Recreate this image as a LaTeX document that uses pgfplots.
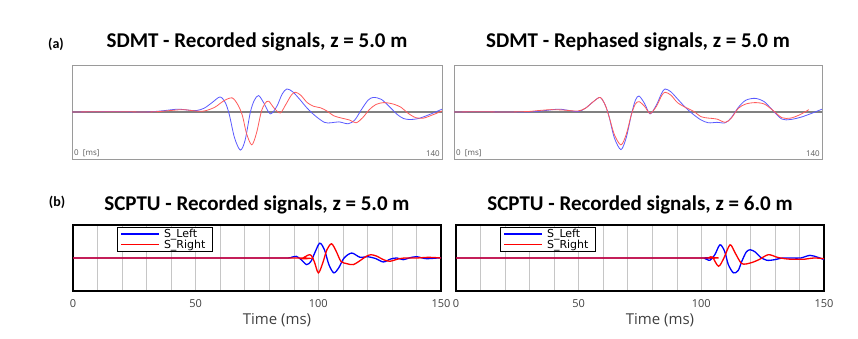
\documentclass[border=0pt]{standalone}
\usepackage{pgfplots}
\pgfplotsset{compat=1.18}
\usepackage{fontspec}
\setmainfont{Carlito}
\newfontfamily\uifont{Open Sans}
\newfontfamily\legfont{DejaVu Sans}

\definecolor{sigBlue}{HTML}{5A5AFF}
\definecolor{sigRed}{HTML}{FF5A5A}
\definecolor{frameGray}{HTML}{9A9A9A}

\pgfplotsset{
  sdmt/.style={
    scale only axis, width=370pt, height=94pt,
    xmin=0, xmax=140, ymin=-1, ymax=1,
    ticks=none,
    axis line style={frameGray, line width=0.9pt},
    title style={font=\bfseries\fontsize{21}{21}\selectfont, at={(0.5,1)}, anchor=base, yshift=11pt},
  },
  scptu/.style={
    scale only axis, width=368pt, height=66pt,
    xmin=0, xmax=150, ymin=-1, ymax=1,
    xtick={0,50,100,150}, ytick=\empty,
    minor xtick={10,20,30,40,60,70,80,90,110,120,130,140},
    xmajorgrids, xminorgrids,
    major grid style={gray!45, line width=0.6pt},
    minor grid style={gray!45, line width=0.6pt},
    major tick length=0pt, minor tick length=0pt,
    axis line style={black, line width=1.4pt},
    tick label style={font=\uifont\fontsize{11}{11}\selectfont, text=black!75, yshift=-5pt},
    /pgf/number format/assume math mode=true,
    xlabel={Time (ms)},
    xlabel style={font=\uifont\fontsize{15}{15}\selectfont, text=black!75, xshift=20pt, yshift=1pt},
    title style={font=\bfseries\fontsize{21}{21}\selectfont, at={(0.5,1)}, anchor=base, yshift=8pt},
    legend style={at={(axis description cs:0.12,0.97)}, anchor=north west, draw=black, line width=0.9pt,
      font=\legfont\fontsize{11}{11}\selectfont, inner xsep=3pt, inner ysep=0.5pt,
      nodes={inner ysep=1.5pt, inner xsep=4pt, text depth=0.1em}, row sep=-2pt, cells={anchor=west}},
    legend image code/.code={\draw[##1, line width=1.4pt] (0pt,0pt) -- (38pt,0pt);},
  },
}

\begin{document}
\begin{tikzpicture}
\useasboundingbox (0pt,0pt) rectangle (858pt,339pt);

\node[font=\bfseries\fontsize{14}{14}\selectfont, anchor=base] at (56pt,290pt) {(a)};
\node[font=\bfseries\fontsize{14}{14}\selectfont, anchor=base] at (57pt,132pt) {(b)};

% SDMT recorded
\begin{axis}[sdmt, at={(72pt,180pt)}, anchor=south west,
  title={SDMT - Recorded signals, z = 5.0 m}]
\addplot[gray, line width=1.4pt] coordinates {(0,0) (140,0)};
\addplot[sigBlue, line width=0.8pt, smooth] coordinates {
(0,0) (8,0.005) (16,0.01) (24,0) (30,0.005) (35,0.03) (40,0.06) (44,0.04) (47,0.03)
(50,0.08) (53,0.2) (56,0.32) (58,0.2) (59.5,-0.05) (61.5,-0.55) (63.7,-0.81) (65.5,-0.6)
(67.5,0) (69,0.25) (70.6,0.35) (72.5,0.2) (75,-0.04) (77.5,0.12) (79.5,0.38) (81.3,0.49)
(83.5,0.43) (86,0.28) (89,0.08) (92,-0.08) (95.5,-0.22) (98,-0.23) (101,-0.21) (104.5,-0.25)
(107,-0.17) (109.5,0.05) (112,0.25) (114,0.31) (117,0.27) (120,0.12) (123,-0.05) (125.5,-0.14)
(128,-0.16) (131,-0.14) (135,-0.06) (140,0.06)};
\addplot[sigRed, line width=0.8pt, smooth] coordinates {
(0,0) (10,0.005) (20,0.005) (28,0) (33,0.01) (37,0.03) (42,0.05) (47,0.02) (50,0.02)
(54,0.1) (57.5,0.24) (60.6,0.3) (62.8,0.15) (64.5,-0.08) (66,-0.45) (68,-0.70) (69.8,-0.45)
(71.6,0) (73,0.18) (74.4,0.23) (76.5,0.08) (78.8,-0.02) (80.8,0.15) (83,0.36) (84.5,0.42)
(86.5,0.36) (89,0.2) (91.5,0.12) (94,0.09) (96.5,0.02) (99,-0.08) (102,-0.13) (105,-0.17)
(107.5,-0.23) (110,-0.12) (112.5,0.05) (115,0.16) (118,0.2) (121.5,0.17) (124.5,0.1)
(127,-0.02) (130,-0.12) (133,-0.13) (136.5,-0.06) (140,0.02)};
\node[anchor=south west, font=\uifont\fontsize{8}{8}\selectfont, text=black!65, inner sep=2pt] at (rel axis cs:0,0) {0\ \ [ms]};
\node[anchor=south east, font=\uifont\fontsize{8}{8}\selectfont, text=black!65, inner sep=2pt] at (rel axis cs:1,0) {140};
\end{axis}

% SDMT rephased
\begin{axis}[sdmt, at={(454pt,180pt)}, anchor=south west, width=368pt,
  title={SDMT - Rephased signals, z = 5.0 m}]
\addplot[gray, line width=1.4pt] coordinates {(0,0) (140,0)};
\addplot[sigBlue, line width=0.8pt, smooth] coordinates {
(0,0) (10,0.005) (20,0) (28,0) (33,0.02) (39.7,0.06) (44,0.03) (47.3,0.01) (50,0.08)
(53,0.22) (55.6,0.31) (57.5,0.15) (59,-0.1) (61,-0.55) (63.5,-0.80) (65.5,-0.55) (67.5,-0.05)
(69,0.25) (70.4,0.34) (72.5,0.18) (74.6,-0.04) (77,0.15) (79,0.4) (80.3,0.49) (82.5,0.43)
(85,0.28) (88,0.1) (91,-0.05) (94,-0.17) (96.8,-0.23) (100,-0.22) (103.2,-0.23) (105.5,-0.12)
(108.2,0.1) (111,0.25) (114.6,0.29) (118,0.22) (121,0.05) (124.7,-0.15) (128,-0.16)
(132,-0.11) (136,-0.03) (140,0.06)};
\addplot[sigRed, line width=0.8pt, smooth] coordinates {
(0,0) (10,0.005) (20,0) (28,0.01) (32,0.03) (37,0.05) (42,0.04) (47,0.02) (50,0.08)
(53,0.22) (55.6,0.31) (57.5,0.15) (59,-0.1) (61,-0.48) (63.5,-0.70) (65.5,-0.48) (67.5,-0.05)
(69,0.17) (70.4,0.22) (72.5,0.12) (74.6,-0.03) (77,0.12) (79,0.35) (80.3,0.42) (82.5,0.36)
(85,0.2) (88,0.1) (91,0.02) (94,-0.1) (96.8,-0.13) (100,-0.15) (103.2,-0.22) (105.5,-0.13)
(108.2,0.08) (111,0.17) (114.6,0.2) (118,0.17) (121,0.05) (124.7,-0.12) (128,-0.13)
(131.5,-0.06) (135,0.05)};
\node[anchor=south west, font=\uifont\fontsize{8}{8}\selectfont, text=black!65, inner sep=2pt] at (rel axis cs:0,0) {0\ \ [ms]};
\node[anchor=south east, font=\uifont\fontsize{8}{8}\selectfont, text=black!65, inner sep=2pt] at (rel axis cs:1,0) {140};
\end{axis}

% SCPTU z = 5.0 m
\begin{axis}[scptu, at={(73pt,48pt)}, anchor=south west,
  title={SCPTU - Recorded signals, z = 5.0 m}]
\addplot[blue, line width=1.3pt, smooth] coordinates {
(0,0) (60,0) (86,0) (89,0.02) (91,0.05) (93,-0.05) (95.2,-0.2) (97,-0.1) (98.8,0.2)
(100.6,0.45) (102.5,0.25) (104.3,-0.2) (106.3,-0.45) (108.3,-0.3) (110.5,0.0) (113.6,0.15)
(117,0.02) (120,0.04) (123.5,-0.02) (126.5,-0.12) (129.5,-0.03) (132,0.0) (134.6,-0.05)
(137,0.0) (140,0.04) (144,-0.02) (150,0.01)};
\addplot[red, line width=1.3pt, smooth] coordinates {
(0,0) (90,0) (93,-0.02) (96.6,0.1) (98.3,-0.1) (100,-0.45) (101.8,-0.15) (103.5,0.25)
(105.4,0.43) (107.3,0.2) (109.2,-0.1) (111.5,-0.17) (114.2,-0.2) (117,-0.08) (119.5,0.05)
(121.5,0.1) (124,0.05) (126.5,-0.05) (129.2,-0.1) (132,-0.04) (135,0.0) (140,0.0) (145,0.02)
(150,0.0)};
\legend{S\_Left, S\_Right}
\end{axis}

% SCPTU z = 6.0 m
\begin{axis}[scptu, at={(456pt,48pt)}, anchor=south west,
  title={SCPTU - Recorded signals, z = 6.0 m}]
\addplot[blue, line width=1.3pt, smooth] coordinates {
(0,0) (99,0) (101,0) (103.5,-0.07) (105.5,0.1) (107.6,0.40) (109.5,0.2) (111,-0.2)
(113.1,-0.45) (115,-0.38) (116.5,-0.1) (118.3,0.18) (119.9,0.25) (122,0.18) (124,0.03)
(126.7,-0.07) (130,-0.05) (133,0) (137,0) (140.5,0.0) (144.3,0.08) (147.5,0.02) (150,-0.05)};
\addplot[red, line width=1.3pt, smooth] coordinates {
(0,0) (100,0) (103,0.01) (104.5,0.03) (107,-0.25) (109.2,0) (111.7,0.40) (113.8,0.15)
(116.5,-0.17) (120,-0.15) (123.5,-0.05) (127.3,0.1) (131,0.02) (135,-0.03) (139,-0.04)
(141.6,-0.04) (146,0) (150,-0.02)};
\legend{S\_Left, S\_Right}
\end{axis}
\end{tikzpicture}
\end{document}
